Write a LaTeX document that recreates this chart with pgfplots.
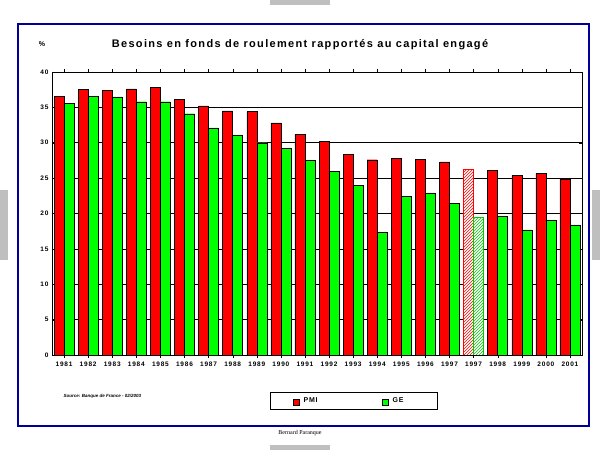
\documentclass[border=0pt]{standalone}
\usepackage{pgfplots}
\pgfplotsset{compat=1.18}
\usepackage{fontspec}
\setmainfont{Liberation Sans}
\setsansfont{Liberation Sans}
\newfontfamily\serifont{Liberation Serif}
\newfontfamily\spaced[LetterSpace=12]{Liberation Sans}
\usetikzlibrary{patterns}
\begin{document}
\begin{tikzpicture}
\useasboundingbox (0pt,0pt) rectangle (600pt,450pt);
\fill[white] (0pt,0pt) rectangle (600pt,450pt);
\draw[blue!60!black,line width=1.2pt] (18pt,24pt) rectangle (589pt,426pt);
\fill[gray!50] (270pt,445pt) rectangle (330pt,450pt);
\fill[gray!50] (270pt,0pt) rectangle (330pt,5pt);
\fill[gray!50] (0pt,190pt) rectangle (8pt,260pt);
\fill[gray!50] (592pt,190pt) rectangle (600pt,260pt);
\begin{axis}[at={(52pt,95pt)},anchor=south west,scale only axis,width=530pt,height=283pt,
  xmin=-0.5,xmax=21.5,ymin=0,ymax=40,
  ytick={0,5,...,40},xtick={0,...,21},
  xticklabels={1981,1982,1983,1984,1985,1986,1987,1988,1989,1990,1991,1992,1993,1994,1995,1996,1997,1997,1998,1999,2000,2001},
  ticklabel style={font=\fontsize{6.5}{8}\selectfont\spaced\bfseries},
  /pgf/number format/assume math mode=true,
  ymajorgrids,grid style={black,line width=0.6pt},
  major tick length=3pt,tick style={black},
  axis line style={black},
  ybar,bar width=10pt]
\addplot[fill=red,draw=black,bar shift=-5pt] coordinates {(0,36.6)(1,37.5)(2,37.4)(3,37.6)(4,37.8)(5,36.1)(6,35.2)(7,34.5)(8,34.4)(9,32.8)(10,31.2)(11,30.2)(12,28.4)(13,27.6)(14,27.8)(15,27.7)(16,27.3)(18,26.1)(19,25.4)(20,25.7)(21,24.9)};
\addplot[fill=green,draw=black,bar shift=5pt] coordinates {(0,35.6)(1,36.6)(2,36.5)(3,35.8)(4,35.8)(5,34.1)(6,32.1)(7,31.1)(8,30.0)(9,29.2)(10,27.5)(11,26.0)(12,24.0)(13,17.3)(14,22.4)(15,22.9)(16,21.4)(18,19.6)(19,17.7)(20,19.0)(21,18.4)};
\addplot[preaction={fill=white},pattern=north east lines,pattern color=red,draw=red,line width=0.8pt,bar shift=-5pt] coordinates {(17,26.2)};
\addplot[preaction={fill=white},pattern=north east lines,pattern color=green!80!black,draw=green!80!black,line width=0.8pt,bar shift=5pt] coordinates {(17,19.5)};
\end{axis}
\node[font=\fontsize{7}{8}\selectfont\bfseries] at (42pt,406pt) {\%};
\node[font=\fontsize{11}{12}\selectfont\spaced\bfseries] at (300pt,405pt) {Besoins en fonds de roulement rapportés au capital engagé};
\node[font=\fontsize{4.5}{5}\selectfont\bfseries\itshape,anchor=west] at (60pt,54pt) {Source: Banque de France - 02/2003};
\draw[black,line width=0.8pt] (270pt,41pt) rectangle (437pt,58pt);
\filldraw[fill=red,draw=black] (293pt,45pt) rectangle (299pt,51pt);
\node[font=\fontsize{7}{8}\selectfont\spaced\bfseries,anchor=west] at (300pt,50pt) {PMI};
\filldraw[fill=green,draw=black] (382pt,45pt) rectangle (388pt,51pt);
\node[font=\fontsize{7}{8}\selectfont\spaced\bfseries,anchor=west] at (389pt,50pt) {GE};
\node[font=\fontsize{6}{7}\selectfont\serifont] at (300pt,17pt) {Bernard Paranque};
\end{tikzpicture}
\end{document}
